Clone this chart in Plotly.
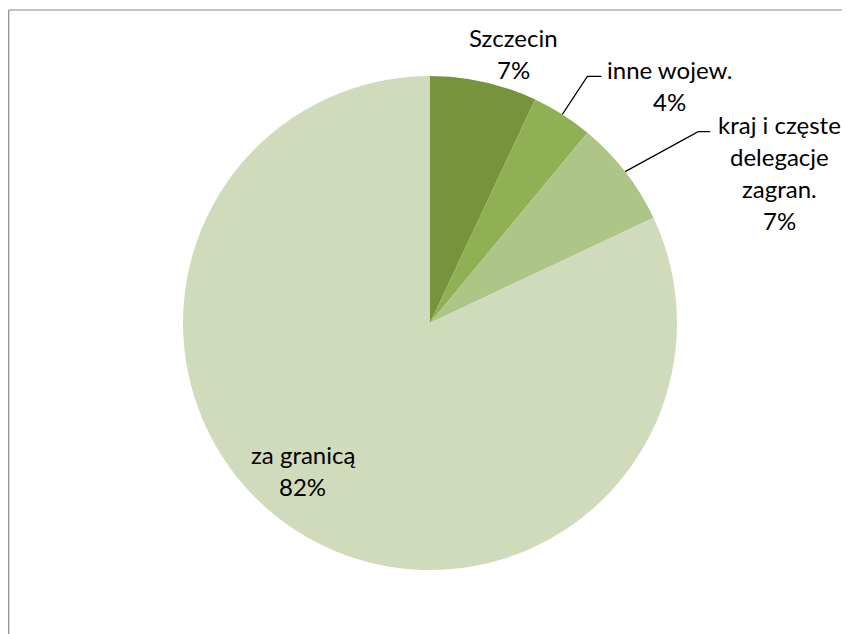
import math
import plotly.graph_objects as go

# ---- data ----
categories = ["Szczecin", "inne wojew.", "kraj i częste<br>delegacje<br>zagran.", "za granicą"]
values = [7, 4, 7, 82]
pct_labels = ["7%", "4%", "7%", "82%"]

# ---- style ----
colors = ["#77933C", "#90B054", "#ADC688", "#CFDBBA"]
W, H = 850, 634
OFF = 8                              # page body margin
CX, CY, R = 430, 323, 247           # pie geometry in screen pixels
FONT = "Lato"
FSIZE = 24
LINE_GAP = 32
# label offsets relative to slice mid-edge point: (dx, dy) of first line center, leader bend
label_style = [
    dict(dx=30, dy=-44, leader=False),
    dict(dx=107, dy=-45, leader=True, bend=(25, -38), hlen=14),
    dict(dx=154, dy=-47, leader=True, bend=(73, -40), hlen=12),
    dict(dx=5, dy=-77, leader=False),
]

def px(x, y):
    return (x - OFF) / W, 1 - (y - OFF) / H

d0 = px(CX - R, CY + R)
d1 = px(CX + R, CY - R)
fig = go.Figure(go.Pie(
    labels=[c.replace("<br>", " ") for c in categories],
    values=values,
    sort=False,
    direction="clockwise",
    rotation=0,
    marker=dict(colors=colors, line=dict(width=0)),
    textinfo="none",
    hoverinfo="label+percent",
    showlegend=False,
    domain=dict(x=[d0[0], d1[0]], y=[d0[1], d1[1]]),
))

annotations = []
shapes = []
total = sum(values)
cum = 0
for cat, v, pl, st in zip(categories, values, pct_labels, label_style):
    mid = (cum + v / 2) / total * 2 * math.pi
    cum += v
    ex = CX + R * math.sin(mid)
    ey = CY - R * math.cos(mid)
    lines = cat.split("<br>") + [pl]
    lx, ly = ex + st["dx"], ey + st["dy"]
    for i, t in enumerate(lines):
        x, y = px(lx, ly + i * LINE_GAP)
        annotations.append(dict(x=x, y=y, xref="paper", yref="paper", text=t, showarrow=False,
                                xanchor="center", yanchor="middle",
                                font=dict(family=FONT, size=FSIZE, color="#000000")))
    if st.get("leader"):
        bx, by = ex + st["bend"][0], ey + st["bend"][1]
        hx = bx + st["hlen"]
        p0, p1, p2 = px(ex, ey), px(bx, by), px(hx, by)
        shapes.append(dict(type="path", xref="paper", yref="paper",
                           path=f"M {p0[0]} {p0[1]} L {p1[0]} {p1[1]} L {p2[0]} {p2[1]}",
                           line=dict(color="#000000", width=1.2)))

# chart area border (top and left visible)
bx0, by0 = px(8.7, 10)
shapes.append(dict(type="line", xref="paper", yref="paper", x0=bx0, y0=by0, x1=1, y1=by0,
                   line=dict(color="#888888", width=1.2)))
shapes.append(dict(type="line", xref="paper", yref="paper", x0=bx0, y0=by0, x1=bx0, y1=0,
                   line=dict(color="#888888", width=1.2)))

fig.update_layout(
    width=W, height=H,
    margin=dict(l=0, r=0, t=0, b=0),
    paper_bgcolor="white", plot_bgcolor="white",
    annotations=annotations, shapes=shapes,
)
fig.write_html("out.html")
